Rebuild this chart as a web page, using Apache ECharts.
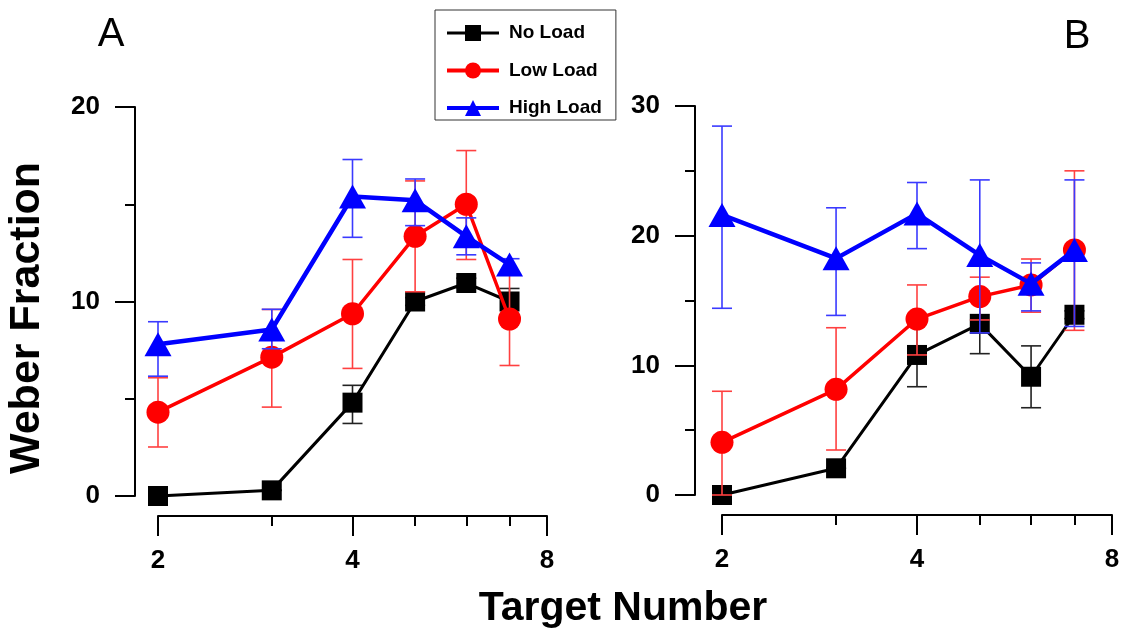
<!DOCTYPE html>
<html>
<head>
<meta charset="utf-8">
<script src="https://cdn.jsdelivr.net/npm/echarts@6/dist/echarts.min.js"></script>
<style>
  html, body { margin: 0; padding: 0; background: #fff; }
  #chart { width: 1126px; height: 631px; }
</style>
</head>
<body>
<div id="chart"></div>
<script>
// target numbers (log2 x axis)
const targets = [2, 3, 4, 5, 6, 7];
const xMajorTicks = [2, 4, 8];
const xMinorTicks = [3, 5, 6, 7];

// panel A
const noLoadA = [0, 0.29, 4.8, 10.0, 10.95, 10.0];
const noLoadALow = [0, 0.29, 3.73, 9.8, 10.7, 9.28];
const noLoadAHigh = [0, 0.29, 5.69, 10.2, 11.2, 10.67];
const lowLoadA = [4.31, 7.14, 9.37, 13.35, 15.0, 9.1];
const lowLoadALow = [2.52, 4.57, 6.56, 10.5, 12.16, 6.71];
const lowLoadAHigh = [6.08, 9.59, 12.16, 16.2, 17.76, 11.5];
const highLoadA = [7.8, 8.56, 15.4, 15.2, 13.35, 11.9];
const highLoadALow = [6.16, 7.57, 13.3, 13.9, 12.4, 11.5];
const highLoadAHigh = [8.96, 9.6, 17.3, 16.3, 14.3, 12.2];

// panel B
const noLoadB = [0, 2.06, 10.8, 13.2, 9.12, 13.9];
const noLoadBLow = [0, 2.06, 8.35, 10.9, 6.73, 13.6];
const noLoadBHigh = [0, 2.06, 13.2, 15.7, 11.5, 14.2];
const lowLoadB = [4.06, 8.15, 13.57, 15.3, 16.2, 18.9];
const lowLoadBLow = [0, 3.47, 10.8, 13.5, 14.1, 12.7];
const lowLoadBHigh = [8.0, 12.9, 16.2, 16.8, 18.2, 25.0];
const highLoadB = [21.6, 18.25, 21.7, 18.5, 16.3, 18.9];
const highLoadBLow = [14.4, 13.85, 19.0, 12.5, 14.2, 13.0];
const highLoadBHigh = [28.45, 22.15, 24.1, 24.3, 17.9, 24.3];

const FONT = 'Liberation Sans, Arial, sans-serif';

let myChart = echarts.init(document.getElementById('chart'));

function pairs(vals) {
  return targets.map((x, i) => [x, vals[i]]);
}
function errData(lo, hi) {
  return targets.map((x, i) => [x, lo[i], hi[i]]);
}

function errorSeries(lo, hi, color, xIdx, yIdx, z) {
  return {
    type: 'custom',
    name: 'err',
    xAxisIndex: xIdx,
    yAxisIndex: yIdx,
    z: z,
    silent: true,
    data: errData(lo, hi),
    renderItem: function (params, api) {
      let p1 = api.coord([api.value(0), api.value(1)]);
      let p2 = api.coord([api.value(0), api.value(2)]);
      let w = 10;
      let style = { stroke: color, lineWidth: 1.6 };
      return {
        type: 'group',
        children: [
          { type: 'line', shape: { x1: p1[0], y1: p1[1], x2: p2[0], y2: p2[1] }, style: style },
          { type: 'line', shape: { x1: p1[0] - w, y1: p1[1], x2: p1[0] + w, y2: p1[1] }, style: style },
          { type: 'line', shape: { x1: p2[0] - w, y1: p2[1], x2: p2[0] + w, y2: p2[1] }, style: style }
        ]
      };
    }
  };
}

function lineSeries(name, vals, color, width, symbol, size, xIdx, yIdx, z) {
  return {
    type: 'line',
    name: name,
    xAxisIndex: xIdx,
    yAxisIndex: yIdx,
    z: z,
    data: pairs(vals),
    symbol: symbol,
    symbolSize: size,
    showAllSymbol: true,
    itemStyle: { color: color, opacity: 1 },
    lineStyle: { color: color, width: width },
    emphasis: { disabled: true },
    animation: false
  };
}

function xMajor(grid) {
  return {
    type: 'log', logBase: 2, gridIndex: grid, min: 2, max: 8,
    position: 'bottom', offset: 20,
    axisLine: { show: true, onZero: false, lineStyle: { color: '#000', width: 2 } },
    axisTick: { show: true, length: 20, lineStyle: { color: '#000', width: 2 }, customValues: xMajorTicks },
    axisLabel: { show: true, margin: 32, color: '#000', fontFamily: FONT, fontWeight: 'bold', fontSize: 26, customValues: xMajorTicks },
    splitLine: { show: false }
  };
}
function xMinor(grid) {
  return {
    type: 'log', logBase: 2, gridIndex: grid, min: 2, max: 8,
    position: 'bottom', offset: 20,
    axisLine: { show: false, onZero: false },
    axisTick: { show: true, length: 10, lineStyle: { color: '#000', width: 2 }, customValues: xMinorTicks },
    axisLabel: { show: false },
    splitLine: { show: false }
  };
}
function yAxis(grid, max, offset) {
  return {
    type: 'value', gridIndex: grid, min: 0, max: max, interval: 10,
    offset: offset,
    axisLine: { show: true, onZero: false, lineStyle: { color: '#000', width: 2 } },
    axisTick: { show: true, length: 20, lineStyle: { color: '#000', width: 2 } },
    minorTick: { show: true, splitNumber: 2, length: 10, lineStyle: { color: '#000', width: 2 } },
    axisLabel: { margin: 35, color: '#000', fontFamily: FONT, fontWeight: 'bold', fontSize: 26 },
    splitLine: { show: false }
  };
}

let option = {
  backgroundColor: '#fff',
  animation: false,
  grid: [
    { left: 158, top: 107, width: 389, height: 389 },
    { left: 722, top: 106, width: 390, height: 389 }
  ],
  xAxis: [xMajor(0), xMinor(0), xMajor(1), xMinor(1)],
  yAxis: [yAxis(0, 20, 23), yAxis(1, 30, 27)],
  legend: {
    data: [
      { name: 'No Load', lineStyle: { width: 3 } },
      { name: 'Low Load', lineStyle: { width: 4 } },
      { name: 'High Load', lineStyle: { width: 4 } }
    ],
    orient: 'vertical',
    left: 435,
    top: 10,
    padding: [13, 14, 2, 10],
    itemWidth: 52,
    itemHeight: 20,
    itemGap: 17.5,
    borderColor: '#333',
    borderWidth: 1,
    textStyle: { color: '#000', fontFamily: FONT, fontWeight: 'bold', fontSize: 19, lineHeight: 20, padding: [0, 0, 0, 5] }
  },
  graphic: [
    { type: 'text', x: 111, y: 35, style: { text: 'A', font: '40px ' + FONT, fill: '#000', align: 'center', verticalAlign: 'middle' } },
    { type: 'text', x: 1077, y: 37, style: { text: 'B', font: '40px ' + FONT, fill: '#000', align: 'center', verticalAlign: 'middle' } },
    { type: 'text', x: 27, y: 318, rotation: Math.PI / 2, style: { text: 'Weber Fraction', font: 'bold 43px ' + FONT, fill: '#000', align: 'center', verticalAlign: 'middle' } },
    { type: 'text', x: 623, y: 609, style: { text: 'Target Number', font: 'bold 41px ' + FONT, fill: '#000', align: 'center', verticalAlign: 'middle' } }
  ],
  series: [
    errorSeries(noLoadALow, noLoadAHigh, '#222', 0, 0, 2),
    lineSeries('No Load', noLoadA, '#000', 3, 'rect', 20, 0, 0, 3),
    errorSeries(lowLoadALow, lowLoadAHigh, '#ff4040', 0, 0, 4),
    lineSeries('Low Load', lowLoadA, '#ff0000', 3.5, 'circle', 23, 0, 0, 5),
    errorSeries(highLoadALow, highLoadAHigh, '#3a3aff', 0, 0, 6),
    lineSeries('High Load', highLoadA, '#0000ff', 4.5, 'triangle', [27, 24], 0, 0, 7),

    errorSeries(noLoadBLow, noLoadBHigh, '#222', 2, 1, 2),
    lineSeries('No Load', noLoadB, '#000', 3, 'rect', 20, 2, 1, 3),
    errorSeries(lowLoadBLow, lowLoadBHigh, '#ff4040', 2, 1, 4),
    lineSeries('Low Load', lowLoadB, '#ff0000', 3.5, 'circle', 23, 2, 1, 5),
    errorSeries(highLoadBLow, highLoadBHigh, '#3a3aff', 2, 1, 6),
    lineSeries('High Load', highLoadB, '#0000ff', 4.5, 'triangle', [27, 24], 2, 1, 7)
  ]
};
myChart.setOption(option);
</script>
</body>
</html>
